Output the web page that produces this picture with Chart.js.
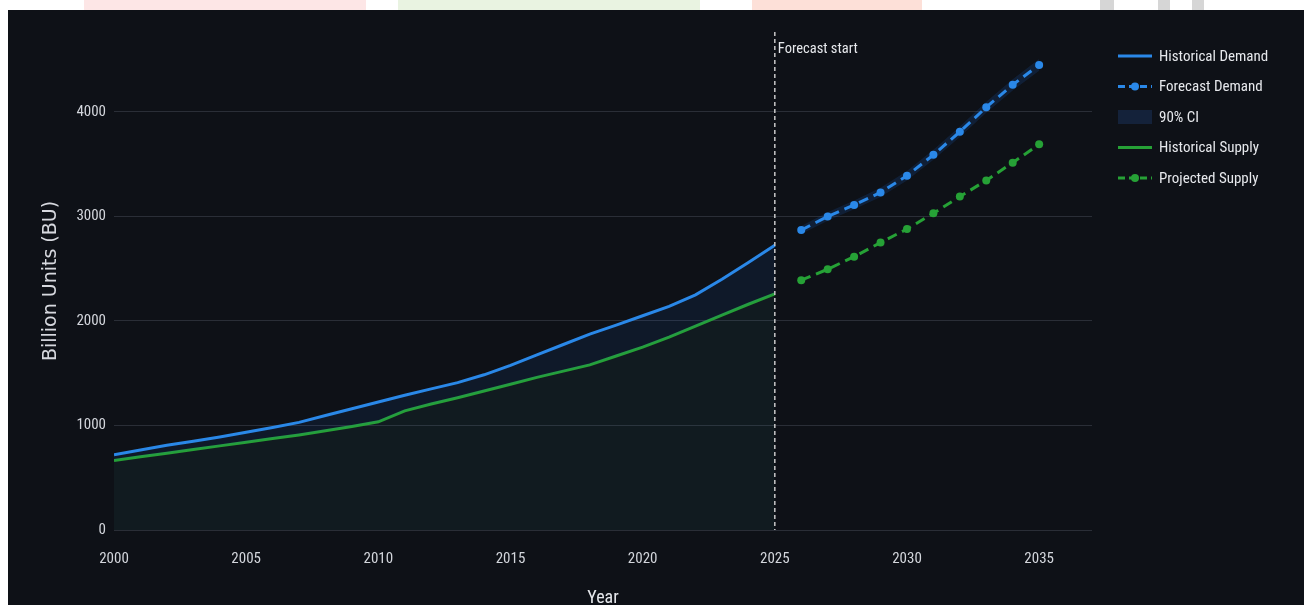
<!DOCTYPE html>
<html>
<head>
<meta charset="utf-8">
<script src="https://cdn.jsdelivr.net/npm/chart.js@4/dist/chart.umd.min.js"></script>
<style>
  html, body { margin: 0; padding: 0; background: #ffffff; width: 1304px; height: 605px; overflow: hidden; }
  .mark { position: absolute; top: 0; height: 10px; }
  #panel { position: absolute; left: 8px; top: 10px; width: 1296px; height: 595px; background: #0e1117; }
</style>
</head>
<body>
<div class="mark" style="left:84px;width:282px;background:#fde6e6;"></div>
<div class="mark" style="left:398px;width:302px;background:#e9f3e1;"></div>
<div class="mark" style="left:752px;width:170px;background:#fde0d8;"></div>
<div class="mark" style="left:1100px;width:14px;background:#d6d6d6;"></div>
<div class="mark" style="left:1158px;width:12px;background:#d6d6d6;"></div>
<div class="mark" style="left:1192px;width:12px;background:#d6d6d6;"></div>
<div id="panel"><canvas id="demandChart"></canvas></div>
<script>
const histYears = [2000, 2001, 2002, 2003, 2004, 2005, 2006, 2007, 2008, 2009, 2010, 2011, 2012,
                   2013, 2014, 2015, 2016, 2017, 2018, 2019, 2020, 2021, 2022, 2023, 2024, 2025];
const histDemand = [720, 765, 810, 850, 890, 935, 980, 1030, 1095, 1160, 1225, 1290, 1350,
                    1410, 1485, 1575, 1675, 1775, 1875, 1960, 2050, 2140, 2250, 2400, 2560, 2725];
const histSupply = [665, 700, 735, 770, 805, 840, 875, 910, 950, 990, 1035, 1140, 1205,
                    1265, 1330, 1395, 1460, 1520, 1580, 1665, 1750, 1845, 1950, 2055, 2160, 2260];

const fcYears = [2026, 2027, 2028, 2029, 2030, 2031, 2032, 2033, 2034, 2035];
const fcDemand = [2870, 3000, 3110, 3230, 3390, 3590, 3810, 4045, 4260, 4450];
const ciLower = [2832, 2960, 3068, 3186, 3344, 3542, 3760, 3993, 4206, 4394];
const ciUpper = [2908, 3040, 3152, 3274, 3436, 3638, 3860, 4097, 4314, 4506];
const fcSupply = [2390, 2495, 2615, 2750, 2880, 3030, 3190, 3345, 3515, 3690];

const yTicks = [0, 1000, 2000, 3000, 4000];
const forecastStart = 2025;

const blue = '#2a88e8';
const green = '#26a136';
const textColor = '#d3d6dc';
const gridColor = '#2a2e37';
const narrow = '"Liberation Sans Narrow", "Roboto Condensed", Lato, sans-serif';

function pts(xs, ys) {
  return xs.map((x, i) => ({ x: x, y: ys[i] }));
}

// dashed marker + label at the forecast start
const forecastLine = {
  id: 'forecastLine',
  afterDatasetsDraw(chart) {
    const { ctx, chartArea, scales } = chart;
    const x = scales.x.getPixelForValue(forecastStart);
    ctx.save();
    ctx.strokeStyle = '#c8c8c8';
    ctx.lineWidth = 1.5;
    ctx.setLineDash([4, 3]);
    ctx.beginPath();
    ctx.moveTo(x, chartArea.top);
    ctx.lineTo(x, chartArea.bottom);
    ctx.stroke();
    ctx.setLineDash([]);
    ctx.fillStyle = '#e6e8ec';
    ctx.font = '14.5px ' + narrow;
    ctx.textBaseline = 'middle';
    ctx.fillText('Forecast start', x + 3, chartArea.top + 17);
    ctx.restore();
  }
};

// plotly style legend on the right
const sideLegend = {
  id: 'sideLegend',
  afterDraw(chart) {
    const { ctx, chartArea } = chart;
    const x0 = chartArea.right + 26;
    let y = chartArea.top + 24;
    ctx.save();
    ctx.font = '15px ' + narrow;
    ctx.textBaseline = 'middle';
    chart.data.datasets.forEach(ds => {
      if (ds.hideInLegend) return;
      if (ds.swatch) {
        ctx.fillStyle = ds.swatch;
        ctx.fillRect(x0, y - 7, 34, 14);
      } else {
        ctx.strokeStyle = ds.borderColor;
        ctx.lineWidth = 3;
        ctx.setLineDash(ds.borderDash ? [7, 4] : []);
        ctx.beginPath();
        ctx.moveTo(x0, y);
        ctx.lineTo(x0 + 34, y);
        ctx.stroke();
        ctx.setLineDash([]);
        if (ds.pointRadius > 0) {
          ctx.fillStyle = ds.borderColor;
          ctx.beginPath();
          ctx.arc(x0 + 17, y, 4, 0, Math.PI * 2);
          ctx.fill();
        }
      }
      ctx.fillStyle = '#e6e8ec';
      ctx.fillText(ds.label, x0 + 41, y + 1);
      y += 30.5;
    });
    ctx.restore();
  }
};

new Chart(document.getElementById('demandChart').getContext('2d'), {
  type: 'line',
  data: {
    datasets: [
      { label: 'Historical Demand', data: pts(histYears, histDemand), borderColor: blue, borderWidth: 3,
        pointRadius: 0, fill: 4, backgroundColor: 'rgba(30,110,229,0.09)' },
      { label: 'Forecast Demand', data: pts(fcYears, fcDemand), borderColor: blue, borderWidth: 3,
        borderDash: [10, 6], pointRadius: 4, pointBackgroundColor: blue, pointBorderWidth: 0, fill: false },
      { label: '90% CI', data: pts(fcYears, ciUpper), borderWidth: 0, pointRadius: 0, fill: '+1',
        backgroundColor: 'rgba(30,100,200,0.18)', swatch: '#14223a' },
      { label: '90% CI lower', data: pts(fcYears, ciLower), borderWidth: 0, pointRadius: 0, fill: false,
        hideInLegend: true },
      { label: 'Historical Supply', data: pts(histYears, histSupply), borderColor: green, borderWidth: 3,
        pointRadius: 0, fill: 'origin', backgroundColor: 'rgba(50,130,130,0.09)' },
      { label: 'Projected Supply', data: pts(fcYears, fcSupply), borderColor: green, borderWidth: 3,
        borderDash: [10, 6], pointRadius: 4, pointBackgroundColor: green, pointBorderWidth: 0, fill: false }
    ]
  },
  options: {
    responsive: true,
    maintainAspectRatio: false,
    animation: false,
    layout: { padding: { left: 28, right: 212, top: 22, bottom: 0 } },
    plugins: { legend: { display: false }, tooltip: { enabled: false } },
    scales: {
      x: {
        type: 'linear', min: 2000, max: 2037,
        grid: { display: false },
        border: { display: false },
        ticks: { stepSize: 5, includeBounds: false, padding: 12, color: textColor,
                 font: { family: narrow, size: 15 }, maxRotation: 0,
                 callback: v => String(v) },
        title: { display: true, text: 'Year', color: '#e6e8ec', padding: { top: 0, bottom: -4 },
                 font: { family: narrow, size: 18 } },
        afterFit: s => { s.height = 75; }
      },
      y: {
        min: 0, max: 4765,
        afterBuildTicks: s => { s.ticks = yTicks.map(v => ({ value: v })); },
        grid: { color: gridColor, lineWidth: 1, drawTicks: false },
        border: { display: false },
        ticks: { padding: 8, color: textColor, font: { family: narrow, size: 15 },
                 callback: v => String(v) },
        title: { display: true, text: 'Billion Units (BU)', color: '#d6d8de',
                 font: { family: '"DejaVu Sans", sans-serif', size: 19 } },
        afterFit: s => { s.width = 78; }
      }
    }
  },
  plugins: [forecastLine, sideLegend]
});
</script>
</body>
</html>
